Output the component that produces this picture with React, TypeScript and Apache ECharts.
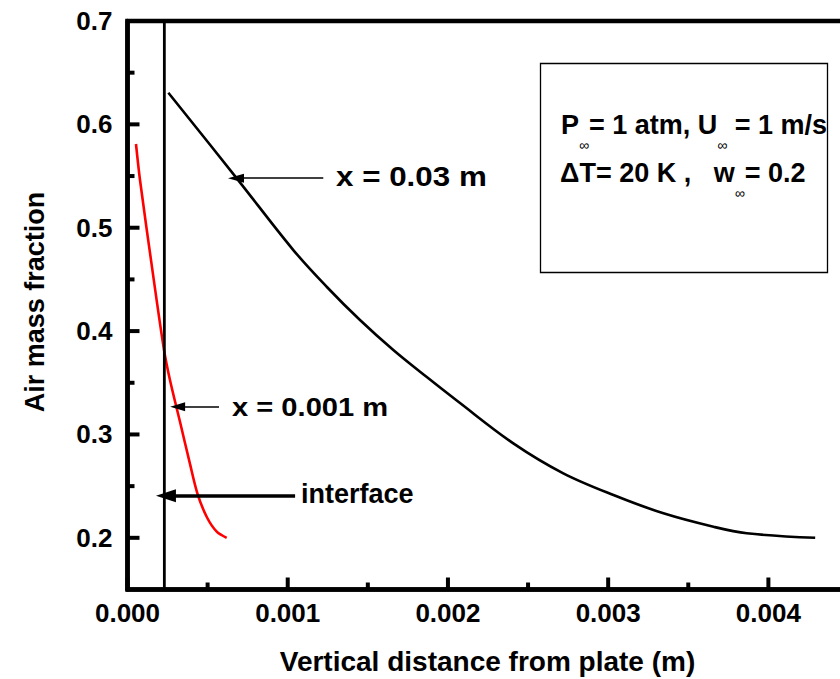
import React, { useEffect, useRef } from "react";
import * as echarts from "echarts";

const FONT = "'Liberation Sans', Arial, Helvetica, sans-serif";

// x = 0.03 m curve (black)
const blackX = [0.000255, 0.000682, 0.001035, 0.001243, 0.001451, 0.001659, 0.001868, 0.002065, 0.002408, 0.00272, 0.003033, 0.003345, 0.003657, 0.003865, 0.004292];
const blackY = [0.6306, 0.5478, 0.4784, 0.4429, 0.4107, 0.3817, 0.3555, 0.3316, 0.2914, 0.2624, 0.2414, 0.2237, 0.2107, 0.2044, 0.2];

// x = 0.001 m curve (red)
const redX = [0.000053, 0.000078, 0.000161, 0.000228, 0.000265, 0.000328, 0.00039, 0.000436, 0.000494, 0.000557, 0.000619];
const redY = [0.581, 0.5462, 0.4529, 0.3817, 0.3527, 0.312, 0.2715, 0.2431, 0.2204, 0.2059, 0.2];

// interface position
const interfaceX = 0.00023;

// ticks
const xMajorTicks = [0, 0.001, 0.002, 0.003, 0.004];
const xMinorTicks = [0.0005, 0.0015, 0.0025, 0.0035];
const yMajorTicks = [0.2, 0.3, 0.4, 0.5, 0.6, 0.7];
const yMinorTicks = [0.25, 0.35, 0.45, 0.55, 0.65];

// annotation arrows [fromX, toX, y]
const arrow03 = [0.001222, 0.000677, 0.5479];
const arrow001 = [0.000571, 0.000313, 0.3268];
const arrowIface = [0.001046, 0.00024, 0.2407];

const zip = (xs: number[], ys: number[]) => xs.map((x, i) => [x, ys[i]]);

export default function App() {
  const ref = useRef<HTMLDivElement>(null);
  useEffect(() => {
    if (!ref.current) return;
    const chart = echarts.init(ref.current, null, { renderer: "svg" });
    const axisLineStyle = { color: "#000", width: 4.5 };
    const labelStyle = { fontSize: 26, fontWeight: "bold", color: "#000", fontFamily: FONT };
    const mk = (a: number[], width: number, size: number[]) => [
      { coord: [a[0], a[2]], symbol: "none" },
      { coord: [a[1], a[2]], symbol: "triangle", symbolSize: size, lineStyle: { width, color: "#000" } },
    ];
    const tickSeries = (vals: number[], dir: "x" | "y", len: number) => ({
      type: "custom",
      silent: true,
      clip: false,
      data: vals.map((v) => (dir === "x" ? [v, 0.15] : [0, v])),
      renderItem: (_p: any, api: any) => {
        const p = api.coord([api.value(0), api.value(1)]);
        const shape =
          dir === "x"
            ? { x1: p[0], y1: p[1], x2: p[0], y2: p[1] - len }
            : { x1: p[0], y1: p[1], x2: p[0] + len, y2: p[1] };
        return { type: "line", shape, style: { stroke: "#000", lineWidth: 4 } };
      },
    });
    const option: any = {
      animation: false,
      grid: {
        left: 127.5, top: 21, width: 721, height: 568.5, outerBoundsMode: "none",
        show: true, borderColor: "#000", borderWidth: 4.5, backgroundColor: "transparent",
      },
      xAxis: {
        type: "value", min: 0, max: 0.0045, interval: 0.001,
        axisLine: { show: true, lineStyle: axisLineStyle },
        axisTick: { show: false },
        axisLabel: { ...labelStyle, margin: 10, formatter: (v: number) => (v > 0.00441 ? "" : v.toFixed(3)) },
        splitLine: { show: false },
      },
      yAxis: {
        type: "value", min: 0.15, max: 0.7, interval: 0.05,
        axisLine: { show: true, lineStyle: axisLineStyle },
        axisTick: { show: false },
        axisLabel: {
          ...labelStyle, margin: 15,
          formatter: (v: number) => (Math.abs(v * 10 - Math.round(v * 10)) < 1e-6 ? v.toFixed(1) : ""),
        },
        splitLine: { show: false },
      },
      series: [
        {
          type: "line", name: "x = 0.03 m", data: zip(blackX, blackY), smooth: 0.35, showSymbol: false,
          lineStyle: { color: "#000", width: 2.6 }, silent: true,
          markLine: {
            silent: true, animation: false, label: { show: false },
            lineStyle: { color: "#000", type: "solid", width: 1.5 },
            data: [mk(arrow03, 1.5, [9, 16]), mk(arrow001, 1.5, [9, 15]), mk(arrowIface, 3.5, [13, 20])],
          },
        },
        {
          type: "line", name: "x = 0.001 m", data: zip(redX, redY), smooth: 0.3, showSymbol: false,
          lineStyle: { color: "#ff0000", width: 2.6 }, silent: true,
        },
        {
          type: "line", name: "interface", data: [[interfaceX, 0.15], [interfaceX, 0.7]], showSymbol: false,
          lineStyle: { color: "#000", width: 2.8 }, silent: true,
        },
        tickSeries(xMajorTicks, "x", 12),
        tickSeries(xMinorTicks, "x", 7),
        tickSeries(yMajorTicks, "y", 12),
        tickSeries(yMinorTicks, "y", 7),
      ],
      graphic: [
        { type: "rect", shape: { x: 540.5, y: 63.5, width: 287, height: 209 }, style: { fill: "none", stroke: "#000", lineWidth: 1.3 } },
        {
          type: "text", x: 561, y: 125,
          style: {
            text: "{a|P}{s|∞}{a|= 1 atm, U}{s|∞}{a| = 1 m/s}", verticalAlign: "middle",
            rich: {
              a: { fontSize: 27, fontWeight: "bold", fontFamily: FONT, fill: "#000" },
              s: { fontSize: 14, fontFamily: FONT, fill: "#000", padding: [40, 0, 0, 0] },
            },
          },
        },
        {
          type: "text", x: 560, y: 173,
          style: {
            text: "{a|ΔT= 20 K ,   w}{s|∞}{a|= 0.2}", verticalAlign: "middle",
            rich: {
              a: { fontSize: 27, fontWeight: "bold", fontFamily: FONT, fill: "#000" },
              s: { fontSize: 14, fontFamily: FONT, fill: "#000", padding: [40, 0, 0, 0] },
            },
          },
        },
        { type: "text", x: 336, y: 176, scaleX: 1.12, style: { text: "x = 0.03 m", fontSize: 28, fontWeight: "bold", fontFamily: FONT, fill: "#000", verticalAlign: "middle" } },
        { type: "text", x: 232, y: 407, scaleX: 1.12, style: { text: "x = 0.001 m", fontSize: 26, fontWeight: "bold", fontFamily: FONT, fill: "#000", verticalAlign: "middle" } },
        { type: "text", x: 301, y: 494, style: { text: "interface", fontSize: 27, fontWeight: "bold", fontFamily: FONT, fill: "#000", verticalAlign: "middle" } },
        { type: "text", x: 487.5, y: 661, style: { text: "Vertical distance from plate (m)", fontSize: 28, fontWeight: "bold", fontFamily: FONT, fill: "#000", align: "center", verticalAlign: "middle" } },
        { type: "text", x: 35, y: 302, rotation: Math.PI / 2, style: { text: "Air mass fraction", fontSize: 27, fontWeight: "bold", fontFamily: FONT, fill: "#000", align: "center", verticalAlign: "middle" } },
      ],
    };
    chart.setOption(option);
    return () => chart.dispose();
  }, []);
  return <div ref={ref} style={{ position: "fixed", left: 0, top: 0, width: 840, height: 679, background: "#fff" }} />;
}
